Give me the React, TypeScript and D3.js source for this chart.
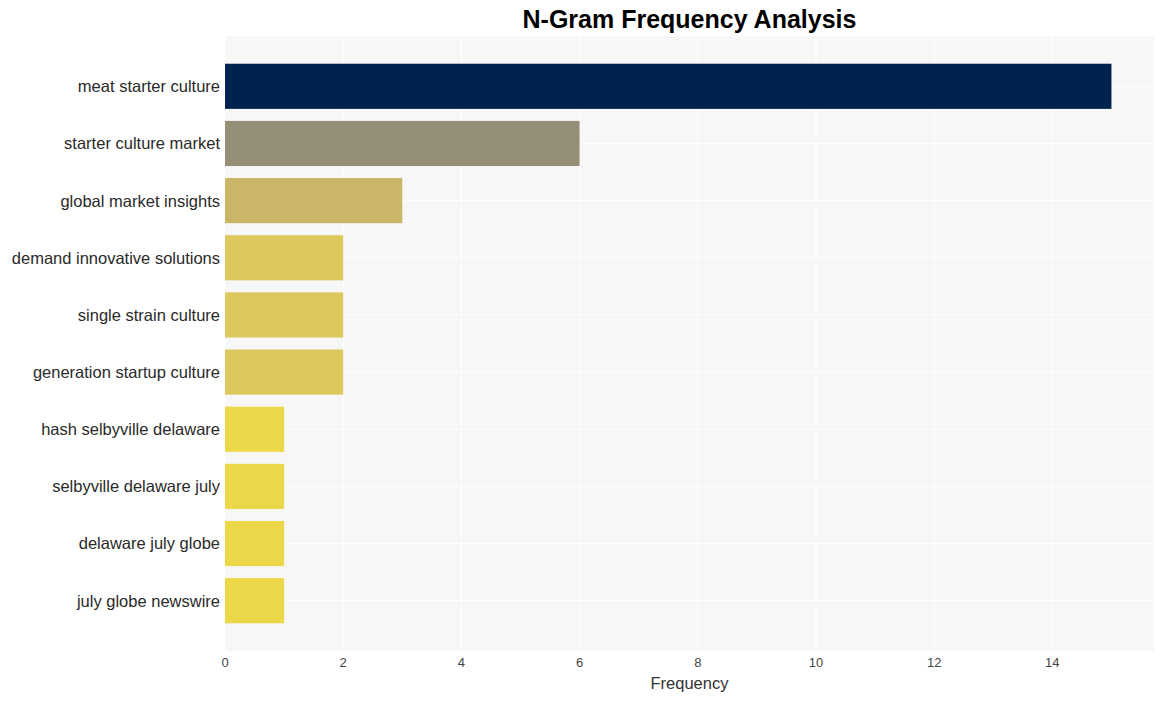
import { useRef, useEffect } from "react"
import * as d3 from "d3"

const phrases = [
  "meat starter culture",
  "starter culture market",
  "global market insights",
  "demand innovative solutions",
  "single strain culture",
  "generation startup culture",
  "hash selbyville delaware",
  "selbyville delaware july",
  "delaware july globe",
  "july globe newswire",
]
const counts = [15, 6, 3, 2, 2, 2, 1, 1, 1, 1]
const barColors = ["#00224e", "#958f78", "#c9b767", "#dcc85c", "#dcc85c", "#dcc85c", "#ecd748", "#ecd748", "#ecd748", "#ecd748"]
const xTicks = [0, 2, 4, 6, 8, 10, 12, 14]

export default function App() {
  const svgRef = useRef<SVGSVGElement>(null)

  useEffect(() => {
    const width = 1165
    const height = 701
    const left = 225
    const right = 1154
    const top = 36
    const bottom = 651
    const font = "'Liberation Sans', Arial, sans-serif"

    const svg = d3.select(svgRef.current).attr("width", width).attr("height", height)
    svg.selectAll("*").remove()

    const x = d3.scaleLinear().domain([0, 15.72]).range([left, right])
    const y = d3.scaleLinear().domain([-0.88, phrases.length - 1 + 0.88]).range([top, bottom])
    const barH = y(0.395) - y(-0.395)

    svg.append("rect").attr("x", left).attr("y", top).attr("width", right - left).attr("height", bottom - top).attr("fill", "#f7f7f7")

    // grid
    const grid = svg.append("g")
    grid
      .selectAll("line.v")
      .data(xTicks)
      .enter()
      .append("line")
      .attr("x1", (d) => x(d))
      .attr("x2", (d) => x(d))
      .attr("y1", top)
      .attr("y2", bottom)
      .attr("stroke", "#ffffff")
      .attr("stroke-width", 1)
    grid
      .selectAll("line.h")
      .data(phrases)
      .enter()
      .append("line")
      .attr("x1", left)
      .attr("x2", right)
      .attr("y1", (d, i) => y(i))
      .attr("y2", (d, i) => y(i))
      .attr("stroke", "#ffffff")
      .attr("stroke-width", 1)

    // bars
    svg
      .append("g")
      .selectAll("rect")
      .data(counts)
      .enter()
      .append("rect")
      .attr("x", x(0))
      .attr("y", (d, i) => y(i) - barH / 2)
      .attr("width", (d) => x(d) - x(0))
      .attr("height", barH)
      .attr("fill", (d, i) => barColors[i])

    // y labels
    svg
      .append("g")
      .selectAll("text")
      .data(phrases)
      .enter()
      .append("text")
      .text((d) => d)
      .attr("x", left - 5)
      .attr("y", (d, i) => y(i))
      .attr("dy", "0.36em")
      .attr("text-anchor", "end")
      .style("font-size", "16.5px")
      .style("font-family", font)
      .attr("fill", "#2a2a2a")

    // x ticks
    svg
      .append("g")
      .selectAll("text")
      .data(xTicks)
      .enter()
      .append("text")
      .text((d) => d)
      .attr("x", (d) => x(d))
      .attr("y", 667)
      .attr("text-anchor", "middle")
      .style("font-size", "13px")
      .style("font-family", font)
      .attr("fill", "#444")

    svg
      .append("text")
      .text("Frequency")
      .attr("x", (left + right) / 2)
      .attr("y", 689)
      .attr("text-anchor", "middle")
      .style("font-size", "16.5px")
      .style("font-family", font)
      .attr("fill", "#333")

    svg
      .append("text")
      .text("N-Gram Frequency Analysis")
      .attr("x", (left + right) / 2)
      .attr("y", 28)
      .attr("text-anchor", "middle")
      .style("font-size", "25px")
      .style("font-weight", "bold")
      .style("font-family", font)
      .attr("fill", "#000")
  }, [])

  return (
    <div style={{ position: "absolute", left: 0, top: 0 }}>
      <svg ref={svgRef}></svg>
    </div>
  )
}
